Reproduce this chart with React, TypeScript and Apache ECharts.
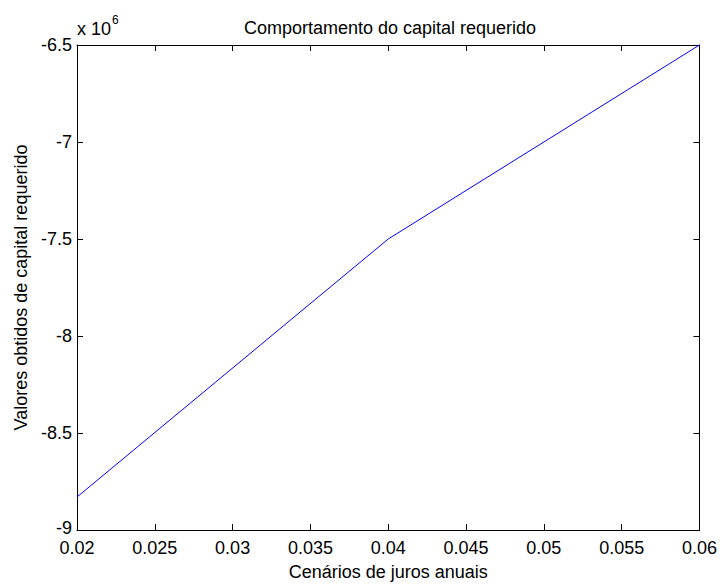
import React, { useEffect, useRef } from "react";
import * as echarts from "echarts";

const rates = [0.02, 0.04, 0.06];
const capital = [-8830000, -7500000, -6500000];
const title = "Comportamento do capital requerido";
const xTitle = "Cenários de juros anuais";
const yTitle = "Valores obtidos de capital requerido";

export default function App() {
  const ref = useRef<HTMLDivElement>(null);
  useEffect(() => {
    const chart = echarts.init(ref.current!, null, { renderer: "svg" });
    const font = "'Liberation Sans', Arial, sans-serif";
    const fs = 18;
    const axisCommon = {
      axisLine: { show: true, lineStyle: { color: "#000", width: 1 } },
      axisTick: { show: true, inside: true, length: 6, lineStyle: { color: "#000" } },
      splitLine: { show: false },
    };
    chart.setOption({
      animation: false,
      backgroundColor: "#fff",
      title: {
        text: title,
        left: 385,
        textAlign: "center",
        top: 14,
        textStyle: { fontFamily: font, fontSize: fs, fontWeight: "normal", color: "#000" },
      },
      grid: { left: 77, right: 20, top: 45, bottom: 50, containLabel: false },
      xAxis: [
        {
          type: "value",
          min: 0.02,
          max: 0.06,
          interval: 0.005,
          position: "bottom",
          name: xTitle,
          nameLocation: "middle",
          nameGap: 33,
          nameTextStyle: { fontFamily: font, fontSize: fs, color: "#000" },
          axisLabel: {
            fontFamily: font,
            fontSize: fs,
            lineHeight: 16,
            color: "#000",
            margin: 10,
            formatter: (v: number) => String(parseFloat(v.toFixed(3))),
          },
          ...axisCommon,
        },
        {
          type: "value",
          min: 0.02,
          max: 0.06,
          interval: 0.005,
          position: "top",
          axisLabel: { show: false },
          ...axisCommon,
        },
      ],
      yAxis: [
        {
          type: "value",
          min: -9000000,
          max: -6500000,
          interval: 500000,
          position: "left",
          name: yTitle,
          nameLocation: "middle",
          nameGap: 47,
          nameRotate: 90,
          nameTextStyle: { fontFamily: font, fontSize: fs, color: "#000" },
          axisLabel: {
            fontFamily: font,
            fontSize: fs,
            lineHeight: 16,
            color: "#000",
            margin: 5,
            formatter: (v: number) => {
              const s = String(parseFloat((v / 1e6).toFixed(2)));
              return v === -9000000 ? `{lo|${s}}` : s;
            },
            rich: {
              lo: { fontFamily: font, fontSize: fs, lineHeight: 16, color: "#000", padding: [0, 0, 5, 0] },
            },
          },
          ...axisCommon,
        },
        {
          type: "value",
          min: -9000000,
          max: -6500000,
          interval: 500000,
          position: "right",
          axisLabel: { show: false },
          ...axisCommon,
        },
      ],
      graphic: [
        {
          type: "text",
          left: 77,
          top: 20,
          style: {
            text: "x 10",
            font: `${fs}px ${font}`,
            fill: "#000",
          },
        },
        {
          type: "text",
          left: 112,
          top: 14,
          style: {
            text: "6",
            font: `12px ${font}`,
            fill: "#000",
          },
        },
      ],
      series: [
        {
          type: "line",
          data: rates.map((r, i) => [r, capital[i]]),
          showSymbol: false,
          symbol: "none",
          lineStyle: { color: "#0000ff", width: 1 },
          xAxisIndex: 0,
          yAxisIndex: 0,
        },
      ],
    });
    return () => chart.dispose();
  }, []);
  return <div ref={ref} style={{ width: 720, height: 586, position: "absolute", left: 0, top: 0 }} />;
}
